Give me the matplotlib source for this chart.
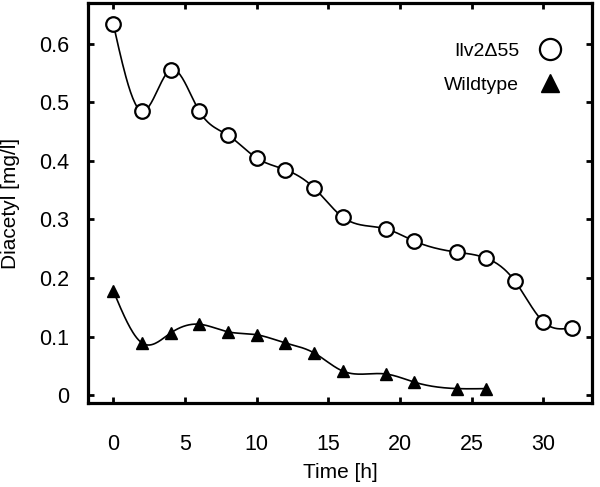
import numpy as np
import matplotlib
matplotlib.use("Agg")
import matplotlib.pyplot as plt

plt.rcParams['font.family'] = ['Liberation Sans', 'DejaVu Sans']

# Ilv2Δ55 mutant
ilv_time = [0, 2, 4, 6, 8, 10, 12, 14, 16, 19, 21, 24, 26, 28, 30, 32]
ilv_diacetyl = [0.634, 0.485, 0.556, 0.485, 0.444, 0.405, 0.385, 0.354,
                0.304, 0.284, 0.263, 0.244, 0.234, 0.195, 0.125, 0.115]

# Wildtype
wt_time = [0, 2, 4, 6, 8, 10, 12, 14, 16, 19, 21, 24, 26]
wt_diacetyl = [0.178, 0.089, 0.106, 0.121, 0.108, 0.103, 0.089, 0.072,
               0.041, 0.036, 0.022, 0.011, 0.011]

x_ticks = [0, 5, 10, 15, 20, 25, 30]
y_ticks = [0, 0.1, 0.2, 0.3, 0.4, 0.5, 0.6]


def natural_spline(x, y, n=400):
    # natural cubic spline through the measured points (smooth connecting line)
    x = np.asarray(x, float)
    y = np.asarray(y, float)
    k = len(x)
    h = np.diff(x)
    A = np.zeros((k, k))
    b = np.zeros(k)
    A[0, 0] = A[-1, -1] = 1
    for i in range(1, k - 1):
        A[i, i - 1] = h[i - 1]
        A[i, i] = 2 * (h[i - 1] + h[i])
        A[i, i + 1] = h[i]
        b[i] = 3 * ((y[i + 1] - y[i]) / h[i] - (y[i] - y[i - 1]) / h[i - 1])
    c = np.linalg.solve(A, b)
    xs = np.linspace(x[0], x[-1], n)
    idx = np.clip(np.searchsorted(x, xs) - 1, 0, k - 2)
    dx = xs - x[idx]
    bb = (y[idx + 1] - y[idx]) / h[idx] - h[idx] * (2 * c[idx] + c[idx + 1]) / 3
    dd = (c[idx + 1] - c[idx]) / (3 * h[idx])
    ys = y[idx] + bb * dx + c[idx] * dx ** 2 + dd * dx ** 3
    return xs, ys


fig = plt.figure(figsize=(6, 4.87), dpi=100)
ax = fig.add_axes([0.147, 0.172, 0.84, 0.822])

xs, ys = natural_spline(ilv_time, ilv_diacetyl)
ax.plot(xs, ys, color='black', lw=1.2)
xs, ys = natural_spline(wt_time, wt_diacetyl)
ax.plot(xs, ys, color='black', lw=1.2)

ax.plot(ilv_time, ilv_diacetyl, 'o', ms=10.5, mfc='white', mec='black',
        mew=1.6, ls='none', label='Ilv2\u039455')
ax.plot(wt_time, wt_diacetyl, '^', ms=8.5, color='black', ls='none',
        label='Wildtype')

ax.set_xlim(-1.75, 33.4)
ax.set_ylim(-0.014, 0.67)
ax.set_xticks(x_ticks)
ax.set_yticks(y_ticks)
ax.set_yticklabels(['0', '0.1', '0.2', '0.3', '0.4', '0.5', '0.6'])

for s in ax.spines.values():
    s.set_linewidth(2.3)
ax.tick_params(direction='in', length=4, width=2, top=True, right=True,
               labelsize=15.5)
ax.tick_params(axis='x', pad=22)
ax.tick_params(axis='y', pad=14)

ax.set_xlabel('Time [h]', fontsize=15, labelpad=6)
ax.set_ylabel('Diacetyl [mg/l]', fontsize=15)
ax.yaxis.set_label_coords(-0.135, 0.5)

ax.legend(loc='upper right', bbox_to_anchor=(0.975, 0.945), frameon=False,
          markerfirst=False, fontsize=14, markerscale=1.45, handlelength=1.2,
          handletextpad=1.0, labelspacing=0.85)

fig.savefig('out.png', dpi=100)
